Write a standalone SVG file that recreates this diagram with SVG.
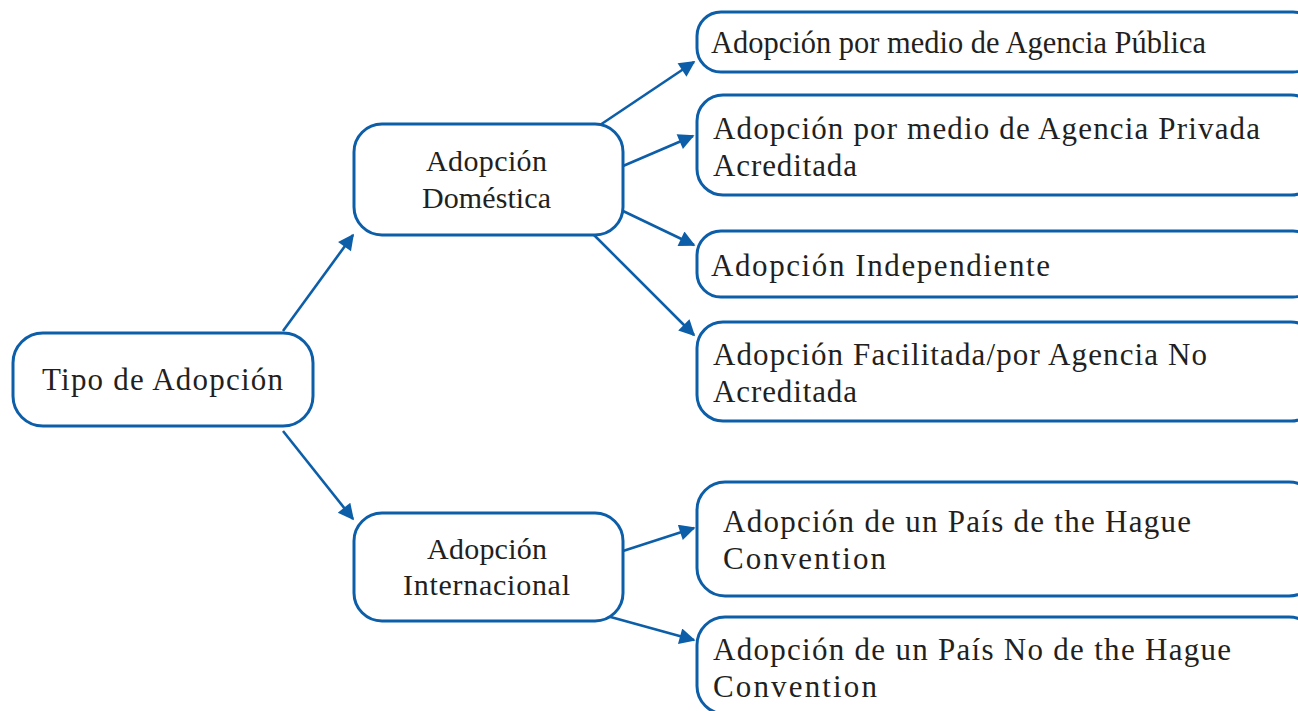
<svg xmlns="http://www.w3.org/2000/svg" width="1298" height="711" viewBox="0 0 1298 711">
<style>
.box{fill:#fff;stroke:#0d5ea8;stroke-width:3}
.t{font-family:"Liberation Serif","Times New Roman",serif;fill:#231f20;font-size:31px}
.s{font-size:30px}
.c{stroke:#0d5ea8;stroke-width:2.6;fill:none;marker-end:url(#ah)}
</style>
<defs>
<marker id="ah" viewBox="0 0 10 10" refX="9" refY="5" markerUnits="userSpaceOnUse" markerWidth="19" markerHeight="16" orient="auto">
<path d="M0,0 L10,5 L0,10 z" fill="#0d5ea8"/>
</marker>
</defs>
<rect width="1298" height="711" fill="#fff"/>
<g id="connectors">
<line class="c" x1="283" y1="331" x2="353" y2="235"/>
<line class="c" x1="283" y1="431" x2="353" y2="519"/>
<line class="c" x1="600" y1="125" x2="694" y2="62"/>
<line class="c" x1="623" y1="166" x2="693" y2="136"/>
<line class="c" x1="623" y1="211" x2="694" y2="245"/>
<line class="c" x1="594" y1="235" x2="694" y2="335"/>
<line class="c" x1="623" y1="551" x2="694" y2="528"/>
<line class="c" x1="607" y1="616" x2="694" y2="640"/>
</g>
<g id="n-tipo">
<rect class="box" x="13" y="333" width="300" height="93" rx="30"/>
<text class="t" x="42" y="390" textLength="241" lengthAdjust="spacing">Tipo de Adopción</text>
</g>
<g id="n-domestica">
<rect class="box" x="354" y="124" width="269" height="111" rx="28"/>
<text class="t s" x="426" y="171" textLength="121" lengthAdjust="spacing">Adopción</text>
<text class="t s" x="422" y="208" textLength="129" lengthAdjust="spacing">Doméstica</text>
</g>
<g id="n-internacional">
<rect class="box" x="354" y="513" width="269" height="108" rx="28"/>
<text class="t s" x="427" y="559" textLength="120" lengthAdjust="spacing">Adopción</text>
<text class="t s" x="403" y="595" textLength="167" lengthAdjust="spacing">Internacional</text>
</g>
<g id="n-publica">
<rect class="box" x="697" y="12" width="620" height="60" rx="24"/>
<text class="t" x="711" y="53" textLength="495" lengthAdjust="spacingAndGlyphs">Adopción por medio de Agencia Pública</text>
</g>
<g id="n-privada">
<rect class="box" x="697" y="95" width="620" height="100" rx="26"/>
<text class="t" x="713" y="139" textLength="547" lengthAdjust="spacing">Adopción por medio de Agencia Privada</text>
<text class="t" x="713" y="176" textLength="144" lengthAdjust="spacing">Acreditada</text>
</g>
<g id="n-independiente">
<rect class="box" x="697" y="231" width="620" height="66" rx="24"/>
<text class="t" x="711" y="276" textLength="339" lengthAdjust="spacing">Adopción Independiente</text>
</g>
<g id="n-facilitada">
<rect class="box" x="697" y="322" width="620" height="99" rx="26"/>
<text class="t" x="713" y="365" textLength="494" lengthAdjust="spacing">Adopción Facilitada/por Agencia No</text>
<text class="t" x="713" y="402" textLength="144" lengthAdjust="spacing">Acreditada</text>
</g>
<g id="n-hague">
<rect class="box" x="697" y="482" width="620" height="114" rx="28"/>
<text class="t" x="723" y="532" textLength="468" lengthAdjust="spacing">Adopción de un País de the Hague</text>
<text class="t" x="723" y="569" textLength="163" lengthAdjust="spacing">Convention</text>
</g>
<g id="n-nohague">
<rect class="box" x="697" y="617" width="620" height="97" rx="28"/>
<text class="t" x="713" y="660" textLength="518" lengthAdjust="spacing">Adopción de un País No de the Hague</text>
<text class="t" x="713" y="697" textLength="164" lengthAdjust="spacing">Convention</text>
</g>
</svg>
